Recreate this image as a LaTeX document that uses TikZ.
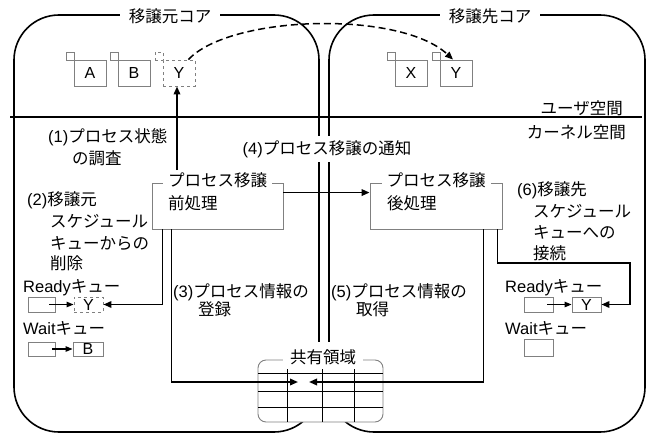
\documentclass[tikz,border=0pt]{standalone}
\usepackage{fontspec}
\setmainfont{Noto Sans CJK JP}
\newfontfamily\lat{Liberation Sans}
\usetikzlibrary{arrows.meta}
\definecolor{boxgray}{RGB}{128,128,128}
\begin{document}
\begin{tikzpicture}[x=1pt,y=-1pt,
  every node/.style={font=\fontsize{16.5}{19}\selectfont, inner sep=0pt},
  core/.style={draw, line width=1.6pt, rounded corners=45pt},
  pbox/.style={draw=boxgray, line width=0.9pt, fill=white, inner sep=0pt},
  psq/.style={draw=boxgray, line width=0.9pt, minimum size=8pt},
  qbox/.style={draw=boxgray, line width=0.9pt, minimum height=15pt},
  title/.style={fill=white, inner xsep=9pt, inner ysep=2pt},
  txt/.style={anchor=base west},
  conn/.style={line width=1.8pt, -{Triangle[length=8pt,width=6.5pt]}},
  sarr/.style={line width=1.2pt, -{Triangle[length=7pt,width=5.5pt]}},
  gridline/.style={line width=1pt}
]
\useasboundingbox (0,0) rectangle (652,436);

% cores
\node[core, minimum width=305pt, minimum height=417pt] (lcore) at (166.5,223.5) {};
\node[core, minimum width=316pt, minimum height=417pt] (rcore) at (487,223.5) {};
\draw[line width=2pt] (10,117) -- (642,117);

\node[title] (ltitle) at (170,16) {移譲元コア};
\node[title] (rtitle) at (490,16) {移譲先コア};
\node[anchor=east] (user) at (623,108) {ユーザ空間};
\node[anchor=east] (kernel) at (626,132) {カーネル空間};
\node[fill=white, inner xsep=3pt, inner ysep=4pt] (l4) at (327,149) {{\lat (4)}プロセス移譲の通知};

% processes
\node[psq] (As) at (70,56) {};
\node[pbox, minimum width=32pt, minimum height=26pt, font=\lat\fontsize{16}{19}\selectfont] (A) at (90,73) {A};
\node[psq] (Bs) at (114,56) {};
\node[pbox, minimum width=32pt, minimum height=26pt, font=\lat\fontsize{16}{19}\selectfont] (B) at (134,73) {B};
\node[psq, dashed] (Yls) at (159,56) {};
\node[pbox, dashed, minimum width=32pt, minimum height=26pt, font=\lat\fontsize{16}{19}\selectfont] (Yl) at (179,73) {Y};
\node[psq] (Xs) at (391,56) {};
\node[pbox, minimum width=32pt, minimum height=26pt, font=\lat\fontsize{16}{19}\selectfont] (X) at (411,73) {X};
\node[psq] (Yrs) at (436,56) {};
\node[pbox, minimum width=32pt, minimum height=26pt, font=\lat\fontsize{16}{19}\selectfont] (Yr) at (456,73) {Y};

\draw[line width=1.5pt, dash pattern=on 7pt off 4pt, -{Triangle[length=8pt,width=6.5pt]}]
  ([xshift=-7pt]Yl.north east) .. controls (230,15) and (400,10) .. ([xshift=-3pt]Yr.north);

% pre / post boxes
\node[pbox, minimum width=131pt, minimum height=46pt] (pre) at (217.5,206) {};
\node[fill=white, inner xsep=5pt, inner ysep=2pt] (prelbl) at (217.5,180) {プロセス移譲};
\node[txt] (pretxt) at (168,209) {前処理};
\node[pbox, minimum width=132pt, minimum height=46pt] (post) at (436,206) {};
\node[fill=white, inner xsep=5pt, inner ysep=2pt] (postlbl) at (436,180) {プロセス移譲};
\node[txt] (posttxt) at (387,209) {後処理};

% labels left
\node[txt] (l1a) at (48,142) {{\lat (1)}プロセス状態};
\node[txt] (l1b) at (72,164) {の調査};
\node[txt] (l2a) at (27,205) {{\lat (2)}移譲元};
\node[txt] (l2b) at (50,227) {スケジュール};
\node[txt] (l2c) at (50,249) {キューからの};
\node[txt] (l2d) at (50,269) {削除};
\node[txt] (rdyl) at (23,292) {{\lat Ready}キュー};
\node[txt] (waitl) at (23,334) {{\lat Wait}キュー};
\node[txt] (l3a) at (173,297) {{\lat (3)}プロセス情報の};
\node[txt] (l3b) at (198,315) {登録};
\node[txt] (l5a) at (331,297) {{\lat (5)}プロセス情報の};
\node[txt] (l5b) at (356,315) {取得};
\node[txt] (l6a) at (517,195) {{\lat (6)}移譲先};
\node[txt] (l6b) at (533,217) {スケジュール};
\node[txt] (l6c) at (533,238) {キューへの};
\node[txt] (l6d) at (533,259) {接続};
\node[txt] (rdyr) at (505,292) {{\lat Ready}キュー};
\node[txt] (waitr) at (505,334) {{\lat Wait}キュー};

% queues
\node[qbox, minimum width=27pt] (RQl) at (41.5,304.5) {};
\node[qbox, dashed, minimum width=29pt, font=\lat\fontsize{16}{19}\selectfont] (RYl) at (88.5,304.5) {Y};
\node[qbox, minimum width=27pt, minimum height=14pt] (WQl) at (41.5,349) {};
\node[qbox, minimum width=30pt, minimum height=14pt, font=\lat\fontsize{16}{19}\selectfont] (WB) at (88,349) {B};
\node[qbox, minimum width=29pt] (RQr) at (538.5,304.5) {};
\node[qbox, minimum width=29pt, font=\lat\fontsize{16}{19}\selectfont] (RYr) at (586.5,304.5) {Y};
\node[qbox, minimum width=29pt, minimum height=17pt] (WQr) at (538.5,347.5) {};
\draw[sarr] ([xshift=-6pt]RQl.east) -- (RYl.west);
\draw[sarr] ([xshift=-3pt]WQl.east) -- (WB.west);
\draw[sarr] ([xshift=-6pt]RQr.east) -- (RYr.west);

% shared area
\node[draw=boxgray, line width=0.9pt, fill=white, rounded corners=8pt, minimum width=125pt, minimum height=62pt] (shared) at (320.5,391) {};
\node[fill=white, inner xsep=7pt, minimum height=30pt] (shlbl) at (323,357) {共有領域};
\draw[gridline] (258,373) -- (383,373);
\draw[gridline] (258,391) -- (383,391);
\draw[gridline] (258,407) -- (383,407);
\draw[gridline] (287,369) -- (287,422);
\draw[gridline] (322,369) -- (322,422);
\draw[gridline] (354,369) -- (354,422);

% connectors
\coordinate (shL) at (298,382);
\coordinate (shR) at (309,382);
\coordinate (bend6) at (630,263);
\draw[conn] ([xshift=-2pt]prelbl.north -| Yl.south) -- ([xshift=-2pt]Yl.south);
\draw[conn] ([yshift=-10pt]pre.north east) -- ([yshift=-10pt]post.north west);
\draw[conn] ([xshift=11pt]pre.south west) |- (RYl.east);
\draw[conn] ([xshift=20pt]pre.south west) |- (shL);
\draw[conn] ([xshift=-19pt]post.south east) |- (shR);
\draw[conn] ([xshift=-5pt]post.south east) |- (bend6) |- (RYr.east);
\end{tikzpicture}
\end{document}
